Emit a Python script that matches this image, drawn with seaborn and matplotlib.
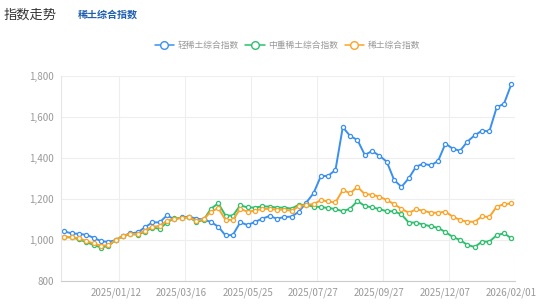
import numpy as np
import pandas as pd
import seaborn as sns
import matplotlib
matplotlib.use("Agg")
import matplotlib.pyplot as plt
from matplotlib.lines import Line2D

sns.set_style("white")
plt.rcParams['font.family'] = ['Noto Sans CJK SC', 'DejaVu Sans']

series_names = ["轻稀土综合指数", "中重稀土综合指数", "稀土综合指数"]
colors = ["#3b8ff0", "#2ec06d", "#fca32a"]

light = [1042, 1032, 1030, 1025, 1011, 994, 991, 999, 1020, 1032,
         1037, 1062, 1086, 1086, 1120, 1101, 1110, 1114, 1104, 1100,
         1088, 1065, 1022, 1025, 1086, 1073, 1088, 1104, 1117, 1104,
         1112, 1114, 1138, 1182, 1228, 1311, 1313, 1342, 1551, 1507,
         1488, 1415, 1434, 1411, 1382, 1293, 1259, 1301, 1358, 1372,
         1364, 1385, 1470, 1446, 1435, 1480, 1511, 1533, 1530, 1647,
         1665, 1760]
heavy = [1013, 1013, 1003, 989, 976, 963, 971, 1000, 1020, 1029,
         1026, 1041, 1060, 1055, 1085, 1106, 1107, 1112, 1088, 1098,
         1152, 1179, 1119, 1119, 1169, 1159, 1158, 1164, 1163, 1158,
         1158, 1153, 1172, 1171, 1163, 1161, 1156, 1151, 1140, 1153,
         1190, 1166, 1159, 1151, 1140, 1140, 1125, 1085, 1085, 1075,
         1067, 1059, 1039, 1015, 1000, 976, 966, 992, 992, 1023,
         1033, 1008]
total = [1016, 1014, 1008, 995, 983, 972, 975, 1000, 1020, 1029,
         1029, 1046, 1065, 1068, 1094, 1104, 1107, 1111, 1093, 1101,
         1138, 1155, 1098, 1098, 1152, 1138, 1143, 1152, 1152, 1148,
         1148, 1143, 1164, 1172, 1175, 1194, 1188, 1183, 1244, 1228,
         1259, 1224, 1221, 1211, 1195, 1175, 1152, 1133, 1149, 1143,
         1133, 1133, 1138, 1114, 1098, 1089, 1089, 1115, 1112, 1163,
         1174, 1179]

tick_idx = [7, 16, 25, 34, 43, 52, 61]
tick_labels = ["2025/01/12", "2025/03/16", "2025/05/25", "2025/07/27",
               "2025/09/27", "2025/12/07", "2026/02/01"]
y_ticks = [800, 1000, 1200, 1400, 1600, 1800]

fig = plt.figure(figsize=(5.54, 3.08), dpi=100)
ax = fig.add_axes([0.1096, 0.0877, 0.8200, 0.6655])

idx = np.arange(len(light))
for vals, c in zip([light, heavy, total], colors):
    sns.lineplot(x=idx, y=vals, ax=ax, color=c, linewidth=1.4,
                 marker='o', markersize=3.0, markerfacecolor='white',
                 markeredgecolor=c, markeredgewidth=0.9)

ax.set_xlim(-0.5, len(light) - 0.5)
ax.set_ylim(800, 1800)
ax.set_yticks(y_ticks)
ax.set_yticklabels([f"{v:,}" for v in y_ticks])
ax.set_xticks(tick_idx)
ax.set_xticklabels(tick_labels)
ax.set_xticks([i + 0.5 for i in tick_idx], minor=True)
ax.grid(False)
ax.grid(True, which='minor', axis='x', color='#eeeeee', linewidth=0.8)
ax.grid(True, which='major', axis='y', color='#eeeeee', linewidth=0.8)
ax.set_axisbelow(True)
ax.tick_params(axis='both', which='both', length=0, labelsize=7,
               labelcolor='#999999', pad=5)
for s in ['top', 'right']:
    ax.spines[s].set_visible(False)
ax.spines['left'].set_color('#e6e6e6')
ax.spines['bottom'].set_color('#cccccc')
ax.spines['left'].set_linewidth(0.8)
ax.spines['bottom'].set_linewidth(0.8)
ax.set_xlabel("")
ax.set_ylabel("")

fig.text(0.007, 0.951, "指数走势", fontsize=9.5, color='#333333',
         ha='left', va='center')
fig.text(0.141, 0.951, "稀土综合指数", fontsize=7.2, color='#1f5fb0',
         ha='left', va='center', fontweight='bold')

handles = [Line2D([0], [0], color=c, linewidth=1.1, marker='o',
                  markersize=5.5, markerfacecolor='white',
                  markeredgecolor=c, markeredgewidth=1.0)
           for c in colors]
fig.legend(handles, series_names, loc='center', ncol=3,
           bbox_to_anchor=(0.519, 0.853), frameon=False, fontsize=6.3,
           labelcolor='#999999', handlelength=2.2, handletextpad=0.45,
           columnspacing=0.7)

fig.savefig("out.png", dpi=100)
